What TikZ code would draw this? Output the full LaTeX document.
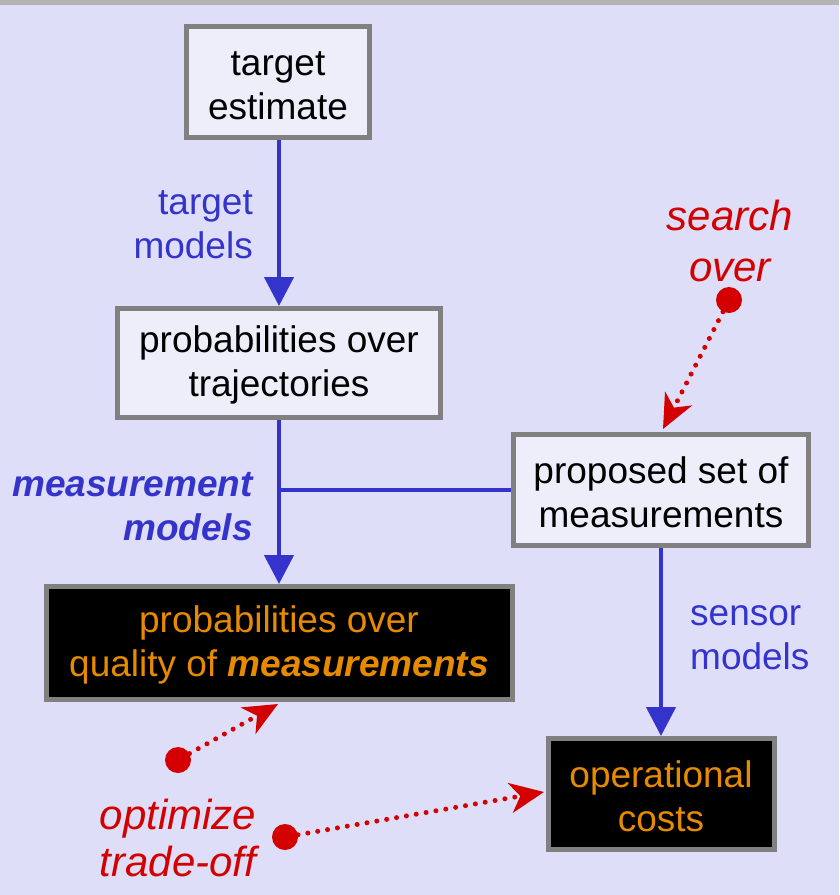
\documentclass[tikz,border=0pt]{standalone}
\usepackage{fontspec}
\setmainfont{Liberation Sans}
\usetikzlibrary{arrows.meta}
\definecolor{bg}{HTML}{DEDEF8}
\definecolor{band}{HTML}{B4B4B4}
\definecolor{boxfill}{HTML}{EEEEFA}
\definecolor{boxdraw}{HTML}{808080}
\definecolor{bluec}{HTML}{3434CC}
\definecolor{redc}{HTML}{D40000}
\definecolor{orangec}{HTML}{E68A00}
\begin{document}
\begin{tikzpicture}[x=1pt,y=-1pt,
  every node/.style={font=\fontsize{37}{44}\selectfont, inner sep=0pt},
  lbox/.style={draw=boxdraw, line width=5pt, fill=boxfill, align=center, text=black, text height=75pt},
  dbox/.style={draw=boxdraw, line width=5pt, fill=black, align=center, text=orangec, text height=75pt},
  bline/.style={draw=bluec, line width=4.5pt},
  barrow/.style={bline, -{Triangle[length=29pt,width=29pt]}},
  rarrow/.style={draw=redc, line width=5pt, line cap=round, dash pattern=on 0pt off 10pt,
    -{Stealth[length=34pt,width=30pt,inset=10pt,line cap=butt,sep=0pt]}},
  rdot/.style={circle, fill=redc, minimum size=26pt},
  blab/.style={text=bluec},
  rlab/.style={text=redc, font=\fontsize{42}{47}\selectfont\itshape, align=center}]
\fill[bg] (0,0) rectangle (839,895);
\fill[band] (0,0) rectangle (839,5);
\useasboundingbox (0,0) rectangle (839,895);

\node[lbox, minimum width=183pt, minimum height=111pt] (te) at (278,82) {target\\estimate};
\node[lbox, minimum width=323pt, minimum height=109pt] (pt) at (279,363) {probabilities over\\trajectories};
\node[lbox, minimum width=295pt, minimum height=111pt] (ps) at (661,490) {proposed set of\\measurements};
\node[dbox, minimum width=466pt, minimum height=113pt] (pq) at (279,643) {probabilities over\\quality of \textbf{\textit{measurements}}};
\node[dbox, minimum width=226pt, minimum height=111pt] (oc) at (661,794) {operational\\costs};

\draw[barrow] (te.south -| pt.north) -- (pt.north);
\draw[barrow] (pt.south) -- (pq.north);
\coordinate (j) at (pt.south |- ps.west);
\draw[bline] (ps.west) -- (j);
\draw[barrow] (ps.south) -- (oc.north);

\node[blab, align=right, anchor=east] (l1) at (253,225) {target\\models};
\node[blab, align=right, anchor=east, font=\fontsize{37}{44}\selectfont\bfseries\itshape] (l2) at (253,507) {measurement\\models};
\node[blab, align=left, anchor=west] (l3) at (690,638) {sensor\\models};
\node[rlab, font=\fontsize{42}{51}\selectfont\itshape] (l4) at (730,241) {search\\over};
\node[rlab] (l5) at (178,838) {optimize\\trade-off};

\node[rdot] (d1) at (729,300) {};
\node[rdot] (d2) at (178,760) {};
\node[rdot] (d3) at (285,837) {};
\coordinate (a1) at (663,429);
\coordinate (a2) at (278,704);
\coordinate (a3) at (544,792);
\draw[rarrow] (d1) -- (a1);
\draw[rarrow] (d2) -- (a2);
\draw[rarrow] (d3) -- (a3);
\end{tikzpicture}
\end{document}
